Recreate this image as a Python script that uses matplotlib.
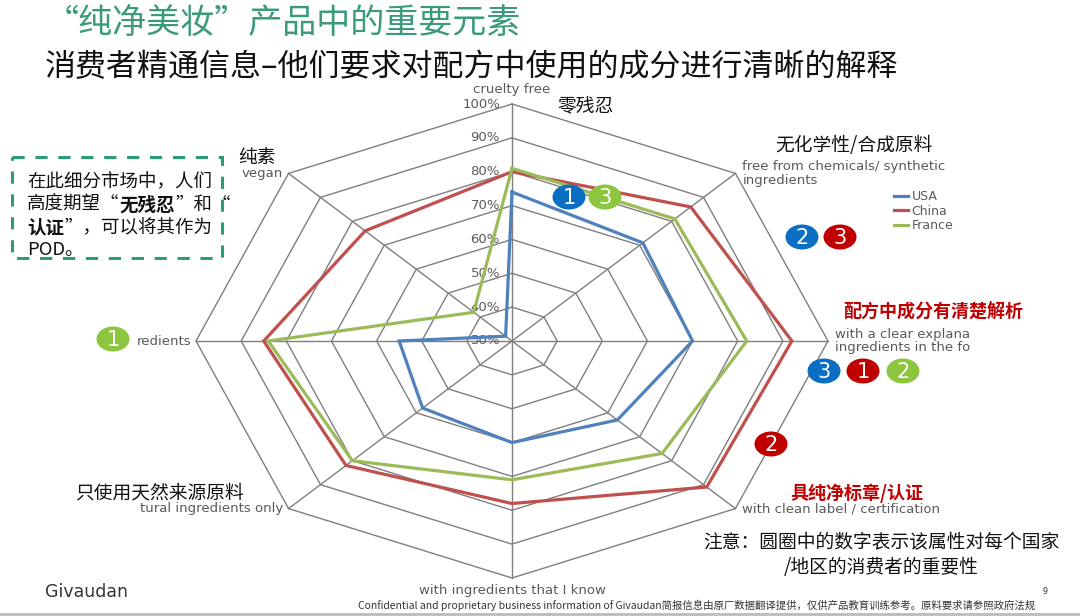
import numpy as np
import matplotlib
matplotlib.use("Agg")
import matplotlib.pyplot as plt
from matplotlib.patches import Ellipse, Rectangle
from matplotlib.lines import Line2D

plt.rcParams['font.family'] = ['Noto Sans CJK SC', 'DejaVu Sans']

# radar data, clockwise from the top
categories = ["cruelty free",
              "free from chemicals/ synthetic\ningredients",
              "with a clear explana\ningredients in the fo",
              "with clean label / certification",
              "with ingredients that I know",
              "tural ingredients only",
              "redients",
              "vegan"]
usa = [74, 71, 70, 63, 60, 58, 55, 32]
china = [80, 86, 92, 91, 78, 82, 85, 76]
france = [81, 81, 82, 77, 71, 80, 84, 42]
ticks = [30, 40, 50, 60, 70, 80, 90, 100]
tick_labels = ["30%", "40%", "50%", "60%", "70%", "80%", "90%", "100%"]

series = [("USA", usa, "#4f81bd"), ("China", china, "#c0504d"), ("France", france, "#9bbb59")]

# importance badges: (x, y, number, colour)
BLUE, RED, GREEN = "#0a6fc2", "#c00000", "#8cc63f"
badges = [(569, 197, "1", BLUE), (605, 197, "3", GREEN),
          (802, 237, "2", BLUE), (840, 237, "3", RED),
          (824, 371, "3", BLUE), (863, 371, "1", RED), (903, 371, "2", GREEN),
          (771, 444, "2", RED),
          (113, 339, "1", GREEN)]

W, H = 1080, 616
fig = plt.figure(figsize=(W / 100, H / 100), dpi=100)

# overlay axes in pixel coordinates for slide annotations
ov = fig.add_axes([0, 0, 1, 1])
ov.set_xlim(0, W)
ov.set_ylim(H, 0)
ov.axis('off')
ov.patch.set_alpha(0)
ov.set_zorder(3)

# radar axes (slide is stretched horizontally)
cx, cy, rx, ry = 512, 341, 316, 237
lim = 1.1
ax = fig.add_axes([(cx - lim * rx) / W, (H - cy - lim * ry) / H,
                   2 * lim * rx / W, 2 * lim * ry / H])
ax.set_xlim(-lim, lim)
ax.set_ylim(-lim, lim)
ax.axis('off')
ax.patch.set_alpha(0)

n = len(categories)
theta = np.arange(n) * 2 * np.pi / n


def to_xy(vals):
    r = (np.asarray(vals, dtype=float) - ticks[0]) / (ticks[-1] - ticks[0])
    x = r * np.sin(theta)
    y = r * np.cos(theta)
    return np.append(x, x[0]), np.append(y, y[0])


grid_c = "#7f7f7f"
for t in ticks[1:]:
    gx, gy = to_xy([t] * n)
    ax.plot(gx, gy, color=grid_c, lw=1.0, zorder=1)
for a in theta:
    ax.plot([0, np.sin(a)], [0, np.cos(a)], color=grid_c, lw=1.0, zorder=1)

for name, vals, col in series:
    sx, sy = to_xy(vals)
    ax.plot(sx, sy, color=col, lw=2.3, label=name, zorder=3, solid_joinstyle='miter')

for t, lab in zip(ticks, tick_labels):
    r = (t - ticks[0]) / (ticks[-1] - ticks[0])
    ax.text(-0.038, r, lab, ha='right', va='center', fontsize=9.5,
            color='#595959', family='DejaVu Sans', zorder=2)

# english category labels at the vertices
offsets = [((0, 10.5), 'center', 'center'), ((5, 0), 'left', 'center'),
           ((5, 0), 'left', 'center'), ((5, 0), 'left', 'center'),
           ((0, -9), 'center', 'center'), ((-4, 0), 'right', 'center'),
           ((-3, 0), 'right', 'center'), ((-4, 0), 'right', 'center')]
vx, vy = to_xy([ticks[-1]] * n)
for i, lab in enumerate(categories):
    off, ha, va = offsets[i]
    ax.annotate(lab, (vx[i], vy[i]), xytext=off, textcoords='offset points',
                ha=ha, va=va, fontsize=9.5, color='#595959', family='DejaVu Sans',
                linespacing=1.05, annotation_clip=False, zorder=2)

handles = [Line2D([], [], color=c, lw=2.3) for _, _, c in series]
ax.legend(handles, [s[0] for s in series], loc='upper left',
          bbox_to_anchor=(888 / W, 1 - 184 / H), bbox_transform=fig.transFigure,
          frameon=False, handlelength=1.1, handletextpad=0.3,
          labelspacing=0.12, borderpad=0, labelcolor='#595959',
          prop={'family': 'DejaVu Sans', 'size': 9})

# chinese labels
ov.text(557, 107, "零残忍", fontsize=13.5, va='center', ha='left', color='#111111')
ov.text(775, 146, "无化学性/合成原料", fontsize=13.5, va='center', ha='left', color='#111111')
ov.text(238, 157, "纯素", fontsize=13.5, va='center', ha='left', color='#111111')
ov.text(843, 312, "配方中成分有清楚解析", fontsize=13, va='center', ha='left',
        color='#c00000', fontweight='bold')
ov.text(790, 493, "具纯净标章/认证", fontsize=13, va='center', ha='left',
        color='#c00000', fontweight='bold')
ov.text(75, 493, "只使用天然来源原料", fontsize=13.5, va='center', ha='left', color='#111111')

for bx, by, num, col in badges:
    ov.add_patch(Ellipse((bx, by), 33, 25, facecolor=col, edgecolor='none'))
    ov.text(bx, by + 1, num, ha='center', va='center', fontsize=15, color='white',
            family='DejaVu Sans')

# dashed call-out box
ov.add_patch(Rectangle((12, 157), 210, 101, fill=False, edgecolor='#2a9d78',
                       lw=2.2, linestyle=(0, (4, 3.5))))
box_fs = 13.3
ov.text(27, 182, "在此细分市场中，人们", fontsize=box_fs, va='center', color='#111111')
t1 = ov.text(27, 205, "高度期望“", fontsize=box_fs, va='center', color='#111111')
t2 = ov.annotate("无残忍", xy=(1, 0.5), xycoords=t1, va='center', fontsize=box_fs,
                 fontweight='bold', color='#111111')
ov.annotate("”和“", xy=(1, 0.5), xycoords=t2, va='center', fontsize=box_fs, color='#111111')
t3 = ov.text(27, 228, "认证", fontsize=box_fs, va='center', fontweight='bold', color='#111111')
ov.annotate("”，可以将其作为", xy=(1, 0.5), xycoords=t3, va='center', fontsize=box_fs,
            color='#111111')
ov.text(27, 250, "POD。", fontsize=box_fs, va='center', color='#111111')

# titles
ov.text(45, 24, "“纯净美妆”产品中的重要元素", fontsize=24.5, va='center', color='#3a9a7a')
ov.text(45, 68, "消费者精通信息–他们要求对配方中使用的成分进行清晰的解释", fontsize=22.3,
        va='center', color='#111111')

# note
ov.text(881, 555, "注意：圆圈中的数字表示该属性对每个国家\n/地区的消费者的重要性", fontsize=13.5,
        va='center', ha='center', color='#111111', linespacing=1.25)

# footer
ov.text(45, 592, "Givaudan", fontsize=12.5, va='center', color='#333333', family='DejaVu Sans')
ov.text(358, 605, "Confidential and proprietary business information of Givaudan"
        "简报信息由原厂数据翻译提供，仅供产品教育训练参考。原料要求请参照政府法规",
        fontsize=7.5, va='center', color='#333333')
ov.text(1043, 592, "9", fontsize=6.5, va='center', color='#333333')
ov.plot([0, W], [614, 614], color='#bbbbbb', lw=2)

fig.savefig("out.png", dpi=100)
